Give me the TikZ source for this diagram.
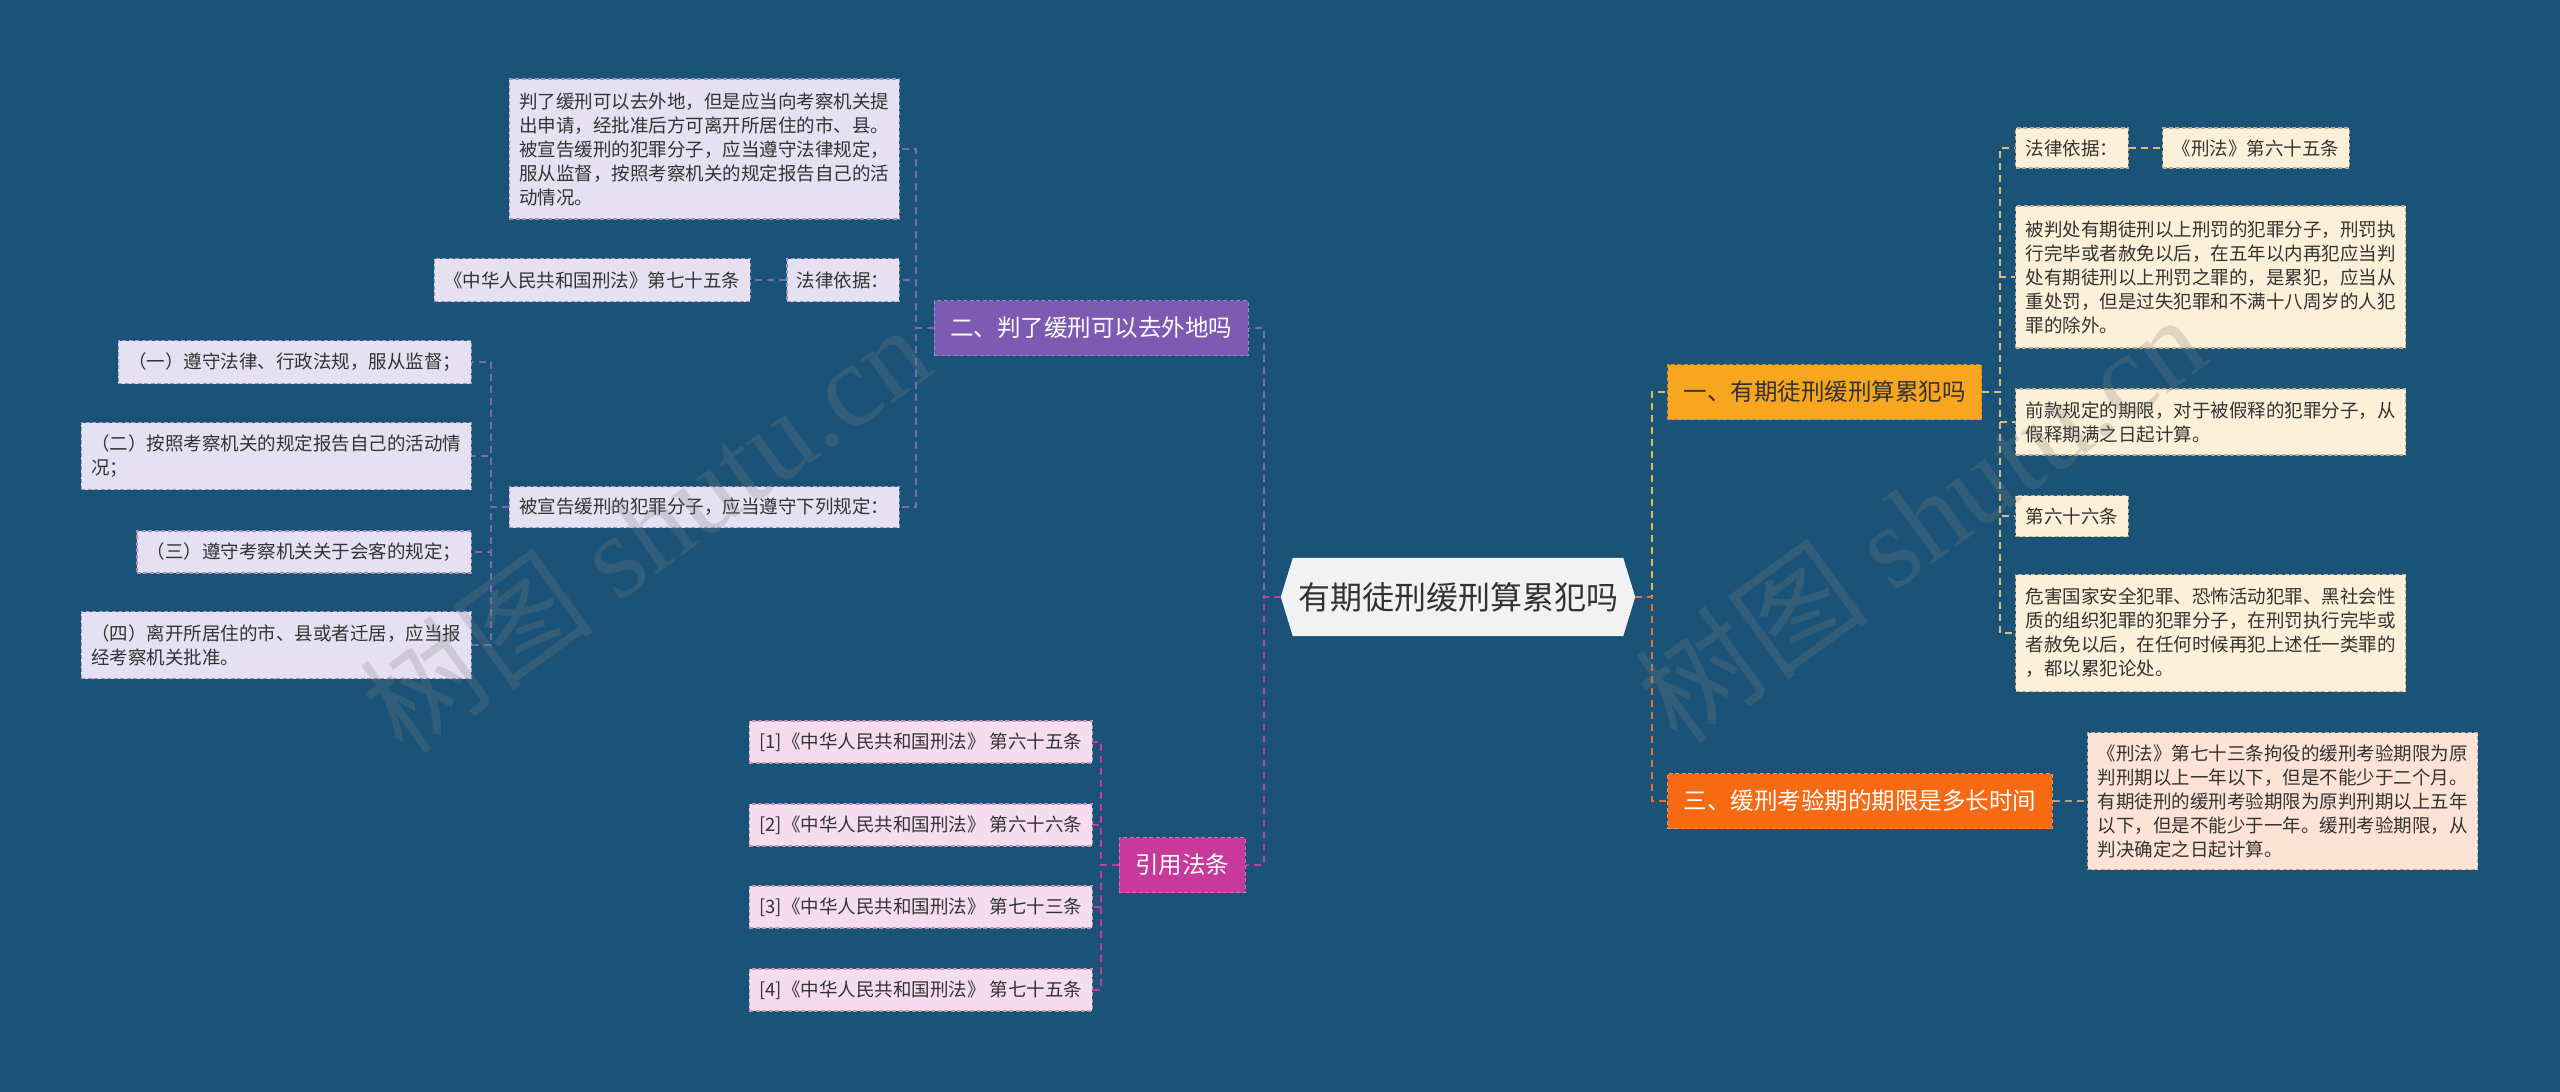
\documentclass[tikz,border=0pt]{standalone}
\usepackage{fontspec}
\setmainfont{Noto Sans CJK SC}
\newfontfamily\wmfont{Liberation Serif}
\usetikzlibrary{backgrounds}
\definecolor{bg}{HTML}{1A5377}
\definecolor{txt}{HTML}{333333}
\definecolor{cF}{HTML}{F2F2F2}
\definecolor{pF}{HTML}{7D5BB3}
\definecolor{pD}{HTML}{9D83CC}
\definecolor{lpF}{HTML}{E6E1F2}
\definecolor{lpD}{HTML}{9C94BC}
\definecolor{mF}{HTML}{C7399B}
\definecolor{mD}{HTML}{DB6CB8}
\definecolor{lmF}{HTML}{F5DDEF}
\definecolor{lmD}{HTML}{B898B0}
\definecolor{yF}{HTML}{F8A51F}
\definecolor{yD}{HTML}{C98A20}
\definecolor{lyF}{HTML}{FDF0D8}
\definecolor{lyD}{HTML}{BFAE8C}
\definecolor{oF}{HTML}{F56A13}
\definecolor{oD}{HTML}{F79050}
\definecolor{loF}{HTML}{FDE3D5}
\definecolor{loD}{HTML}{BFA49A}
\definecolor{pC}{HTML}{8466C0}
\definecolor{pcC}{HTML}{7A6AAE}
\definecolor{mC}{HTML}{C43D9E}
\definecolor{yC}{HTML}{E8B84A}
\definecolor{ycC}{HTML}{D9BE7A}
\definecolor{oC}{HTML}{E2733A}
\definecolor{ocC}{HTML}{B89A88}
\tikzset{
  box/.style={rectangle, inner xsep=10pt, inner ysep=0pt, align=left,
    line width=1.3pt, dash pattern=on 4pt off 2.5pt,
    font=\fontsize{18.5}{24}\selectfont, text=txt},
  lp/.style={box, fill=lpF, draw=lpD},
  lm/.style={box, fill=lmF, draw=lmD},
  ly/.style={box, fill=lyF, draw=lyD},
  lo/.style={box, fill=loF, draw=loD},
  mid/.style={rectangle, inner xsep=16pt, inner ysep=0pt, minimum height=55pt,
    line width=1.3pt, dash pattern=on 4pt off 2.5pt,
    font=\fontsize{23.5}{28}\selectfont},
  link/.style={line width=1.8pt, dash pattern=on 7pt off 5pt},
  wm/.style={rotate=36, text=gray, opacity=0.25, font=\fontsize{118}{118}\selectfont},
}
\begin{document}
\begin{tikzpicture}[x=1pt,y=-1pt]
\begin{scope}[on background layer]
  \fill[bg] (0,0) rectangle (2560,1092);
\end{scope}
\useasboundingbox (0,0) rectangle (2560,1092);

% center
\node[minimum width=354pt, minimum height=78pt, inner sep=0pt, text=txt,
  font=\fontsize{32}{36}\selectfont] (c) at (1458,597) {有期徒刑缓刑算累犯吗};
\begin{scope}[on background layer]
  \fill[cF] ([xshift=12pt]c.north west) -- ([xshift=-12pt]c.north east) -- (c.east)
    -- ([xshift=-12pt]c.south east) -- ([xshift=12pt]c.south west) -- (c.west) -- cycle;
\end{scope}

% main branches
\node[mid, fill=pF, draw=pD, text=white, anchor=east] (P) at (1249,328) {二、判了缓刑可以去外地吗};
\node[mid, fill=mF, draw=mD, text=white, anchor=east] (M) at (1246,865) {引用法条};
\node[mid, fill=yF, draw=yD, text=txt, anchor=west] (Y) at (1667,392) {一、有期徒刑缓刑算累犯吗};
\node[mid, fill=oF, draw=oD, text=white, anchor=west] (O) at (1667,801) {三、缓刑考验期的期限是多长时间};

\draw[link, pC] (c.west) -- ++(-17,0) |- (P.east);
\draw[link, mC] (c.west) -- ++(-17,0) |- (M.east);
\draw[link, yC] (c.east) -- ++(17,0) |- (Y.west);
\draw[link, oC] (c.east) -- ++(17,0) |- (O.west);

% purple children
\node[lp, anchor=east, minimum height=140pt] (p1) at (900,149)
  {判了缓刑可以去外地，但是应当向考察机关提\\出申请，经批准后方可离开所居住的市、县。\\被宣告缓刑的犯罪分子，应当遵守法律规定，\\服从监督，按照考察机关的规定报告自己的活\\动情况。};
\node[lp, anchor=east, minimum height=43pt] (p2) at (900,280) {法律依据：};
\node[lp, anchor=east, minimum height=43pt] (p2r) at (751,280) {《中华人民共和国刑法》第七十五条};
\node[lp, anchor=east, minimum height=41pt] (p3) at (900,507) {被宣告缓刑的犯罪分子，应当遵守下列规定：};
\node[lp, anchor=east, minimum height=43pt] (r1) at (472,362) {（一）遵守法律、行政法规，服从监督；};
\node[lp, anchor=east, minimum height=67pt] (r2) at (472,456) {（二）按照考察机关的规定报告自己的活动情\\况；};
\node[lp, anchor=east, minimum height=42pt] (r3) at (472,552) {（三）遵守考察机关关于会客的规定；};
\node[lp, anchor=east, minimum height=67pt] (r4) at (472,645) {（四）离开所居住的市、县或者迁居，应当报\\经考察机关批准。};

\foreach \n in {p1,p2,p3} \draw[link, pcC] (P.west) -- ++(-18,0) |- (\n.east);
\draw[link, pcC] (p2.west) -- (p2r.east);
\foreach \n in {r1,r2,r3,r4} \draw[link, pcC] (p3.west) -- ++(-18,0) |- (\n.east);

% magenta children
\node[lm, anchor=east, minimum height=42pt] (m1) at (1093,742) {[1]《中华人民共和国刑法》 第六十五条};
\node[lm, anchor=east, minimum height=42pt] (m2) at (1093,825) {[2]《中华人民共和国刑法》 第六十六条};
\node[lm, anchor=east, minimum height=42pt] (m3) at (1093,907) {[3]《中华人民共和国刑法》 第七十三条};
\node[lm, anchor=east, minimum height=42pt] (m4) at (1093,990) {[4]《中华人民共和国刑法》 第七十五条};
\foreach \n in {m1,m2,m3,m4} \draw[link, mC] (M.west) -- ++(-18,0) |- (\n.east);

% yellow children
\node[ly, anchor=west, minimum height=40pt] (y1) at (2015,148) {法律依据：};
\node[ly, anchor=west, minimum height=40pt] (y1r) at (2162,148) {《刑法》第六十五条};
\node[ly, anchor=west, minimum height=142pt] (y2) at (2015,277)
  {被判处有期徒刑以上刑罚的犯罪分子，刑罚执\\行完毕或者赦免以后，在五年以内再犯应当判\\处有期徒刑以上刑罚之罪的，是累犯，应当从\\重处罚，但是过失犯罪和不满十八周岁的人犯\\罪的除外。};
\node[ly, anchor=west, minimum height=66pt] (y3) at (2015,422)
  {前款规定的期限，对于被假释的犯罪分子，从\\假释期满之日起计算。};
\node[ly, anchor=west, minimum height=41pt] (y4) at (2015,516) {第六十六条};
\node[ly, anchor=west, minimum height=117pt] (y5) at (2015,633)
  {危害国家安全犯罪、恐怖活动犯罪、黑社会性\\质的组织犯罪的犯罪分子，在刑罚执行完毕或\\者赦免以后，在任何时候再犯上述任一类罪的\\，都以累犯论处。};
\foreach \n in {y1,y2,y3,y4,y5} \draw[link, ycC] (Y.east) -- ++(18,0) |- (\n.west);
\draw[link, ycC] (y1.east) -- (y1r.west);

% orange child
\node[lo, anchor=west, minimum height=137pt] (o1) at (2087,801)
  {《刑法》第七十三条拘役的缓刑考验期限为原\\判刑期以上一年以下，但是不能少于二个月。\\有期徒刑的缓刑考验期限为原判刑期以上五年\\以下，但是不能少于一年。缓刑考验期限，从\\判决确定之日起计算。};
\draw[link, ocC] (O.east) -- (o1.west);

% watermark
\node[wm] (wm1) at (645,528) {树图 {\wmfont shutu.cn}};
\node[wm] (wm2) at (1920,518) {树图 {\wmfont shutu.cn}};
\end{tikzpicture}
\end{document}
